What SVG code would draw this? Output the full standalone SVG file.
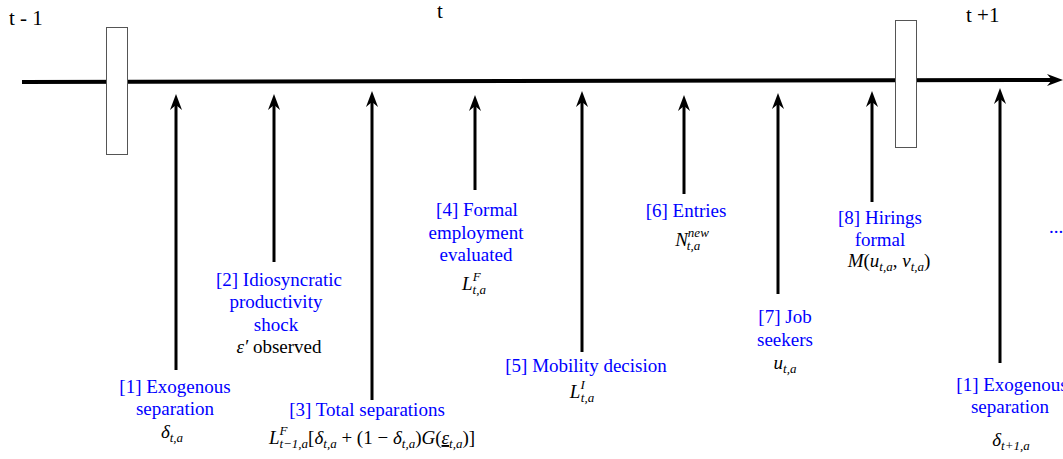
<svg xmlns="http://www.w3.org/2000/svg" width="1063" height="459" viewBox="0 0 1063 459">
<defs>
<style>
text{font-family:"Liberation Serif","Times New Roman",serif}
.lbl{font-size:19px;fill:#0000ff;text-anchor:middle}
.m{font-size:19px;fill:#000;text-anchor:middle;font-style:italic}
.up{font-style:normal}
.s{font-size:13px}
.hdr{font-size:21px;fill:#000}
.arr{stroke:#000;stroke-width:3;fill:none}
.box{fill:#fff;stroke:#555;stroke-width:1}
</style>
<path id="headUp" d="M0,0 L6,16 L0,11 L-6,16 z" fill="#000"/>
<path id="headRight" d="M0,0 L-16,-6 L-11,0 L-16,6 z" fill="#000"/>
</defs>
<rect width="1063" height="459" fill="#fff"/>
<g id="headers">
<text class="hdr" x="9" y="25">t  -  1</text>
<text class="hdr" x="437" y="18">t</text>
<text class="hdr" x="966" y="22">t  +1</text>
</g>
<g id="connectors">
<path d="M22,82 L1052,80" stroke="#000" stroke-width="4" fill="none"/>
<use href="#headRight" x="1063" y="80"/>
<path class="arr" d="M176,370 L176,104"/><use href="#headUp" x="176" y="94"/>
<path class="arr" d="M274,262 L274,104"/><use href="#headUp" x="274" y="94"/>
<path class="arr" d="M372,400 L372,101"/><use href="#headUp" x="372" y="91"/>
<path class="arr" d="M475,190 L475,105"/><use href="#headUp" x="475" y="95"/>
<path class="arr" d="M582,352 L582,101"/><use href="#headUp" x="582" y="91"/>
<path class="arr" d="M684,194 L684,105"/><use href="#headUp" x="684" y="95"/>
<path class="arr" d="M778,294 L778,103"/><use href="#headUp" x="778" y="93"/>
<path class="arr" d="M872,202 L872,101"/><use href="#headUp" x="872" y="91"/>
<path class="arr" d="M1000,363 L1000,98"/><use href="#headUp" x="1000" y="88"/>
</g>
<g id="period-boxes">
<rect class="box" x="106.5" y="27.5" width="21" height="127"/>
<rect class="box" x="895.5" y="20.5" width="21" height="127"/>
</g>
<g id="node1">
<text class="lbl" x="175" y="393">[1] Exogenous</text>
<text class="lbl" x="175" y="415">separation</text>
<text class="m" x="172" y="438">δ<tspan class="s" dy="4">t,a</tspan></text>
</g>
<g id="node2">
<text class="lbl" x="279" y="286">[2] Idiosyncratic</text>
<text class="lbl" x="276" y="308">productivity</text>
<text class="lbl" x="276" y="331">shock</text>
<text class="m" x="279" y="353">ε′<tspan class="up"> observed</tspan></text>
</g>
<g id="node3">
<text class="lbl" x="367" y="416">[3] Total separations</text>
<text class="m" x="372" y="444">L<tspan class="s" dy="-9">F</tspan><tspan class="s" dx="-8" dy="13">t−1,a</tspan><tspan class="up" dy="-4">[</tspan>δ<tspan class="s" dy="4">t,a</tspan><tspan class="up" dy="-4"> + (1 − </tspan>δ<tspan class="s" dy="4">t,a</tspan><tspan class="up" dy="-4">)</tspan>G<tspan class="up">(</tspan><tspan text-decoration="underline">ε</tspan><tspan class="s" dy="4">t,a</tspan><tspan class="up" dy="-4">)]</tspan></text>
</g>
<g id="node4">
<text class="lbl" x="477" y="216">[4] Formal</text>
<text class="lbl" x="476" y="239">employment</text>
<text class="lbl" x="476" y="261">evaluated</text>
<text class="m" x="474" y="290">L<tspan class="s" dy="-9">F</tspan><tspan class="s" dx="-8" dy="13">t,a</tspan></text>
</g>
<g id="node5">
<text class="lbl" x="586" y="372">[5] Mobility decision</text>
<text class="m" x="582" y="398">L<tspan class="s" dy="-9">I</tspan><tspan class="s" dx="-4" dy="13">t,a</tspan></text>
</g>
<g id="node6">
<text class="lbl" x="686" y="217">[6] Entries</text>
<text class="m" x="692" y="246">N<tspan class="s" dy="-9">new</tspan><tspan class="s" dx="-22" dy="13">t,a</tspan></text>
</g>
<g id="node7">
<text class="lbl" x="785" y="323">[7] Job</text>
<text class="lbl" x="785" y="346">seekers</text>
<text class="m" x="785" y="369">u<tspan class="s" dy="4">t,a</tspan></text>
</g>
<g id="node8">
<text class="lbl" x="880" y="224">[8] Hirings</text>
<text class="lbl" x="880" y="246">formal</text>
<text class="m" x="889" y="267">M<tspan class="up">(</tspan>u<tspan class="s" dy="4">t,a</tspan><tspan class="up" dy="-4">, </tspan>v<tspan class="s" dy="4">t,a</tspan><tspan class="up" dy="-4">)</tspan></text>
</g>
<g id="node9">
<text class="lbl" x="1012" y="391">[1] Exogenous</text>
<text class="lbl" x="1010" y="413">separation</text>
<text class="m" x="1011" y="446">δ<tspan class="s" dy="4">t+1,a</tspan></text>
</g>
<g id="ellipsis">
<text class="lbl" x="1056" y="233">...</text>
</g>
</svg>
